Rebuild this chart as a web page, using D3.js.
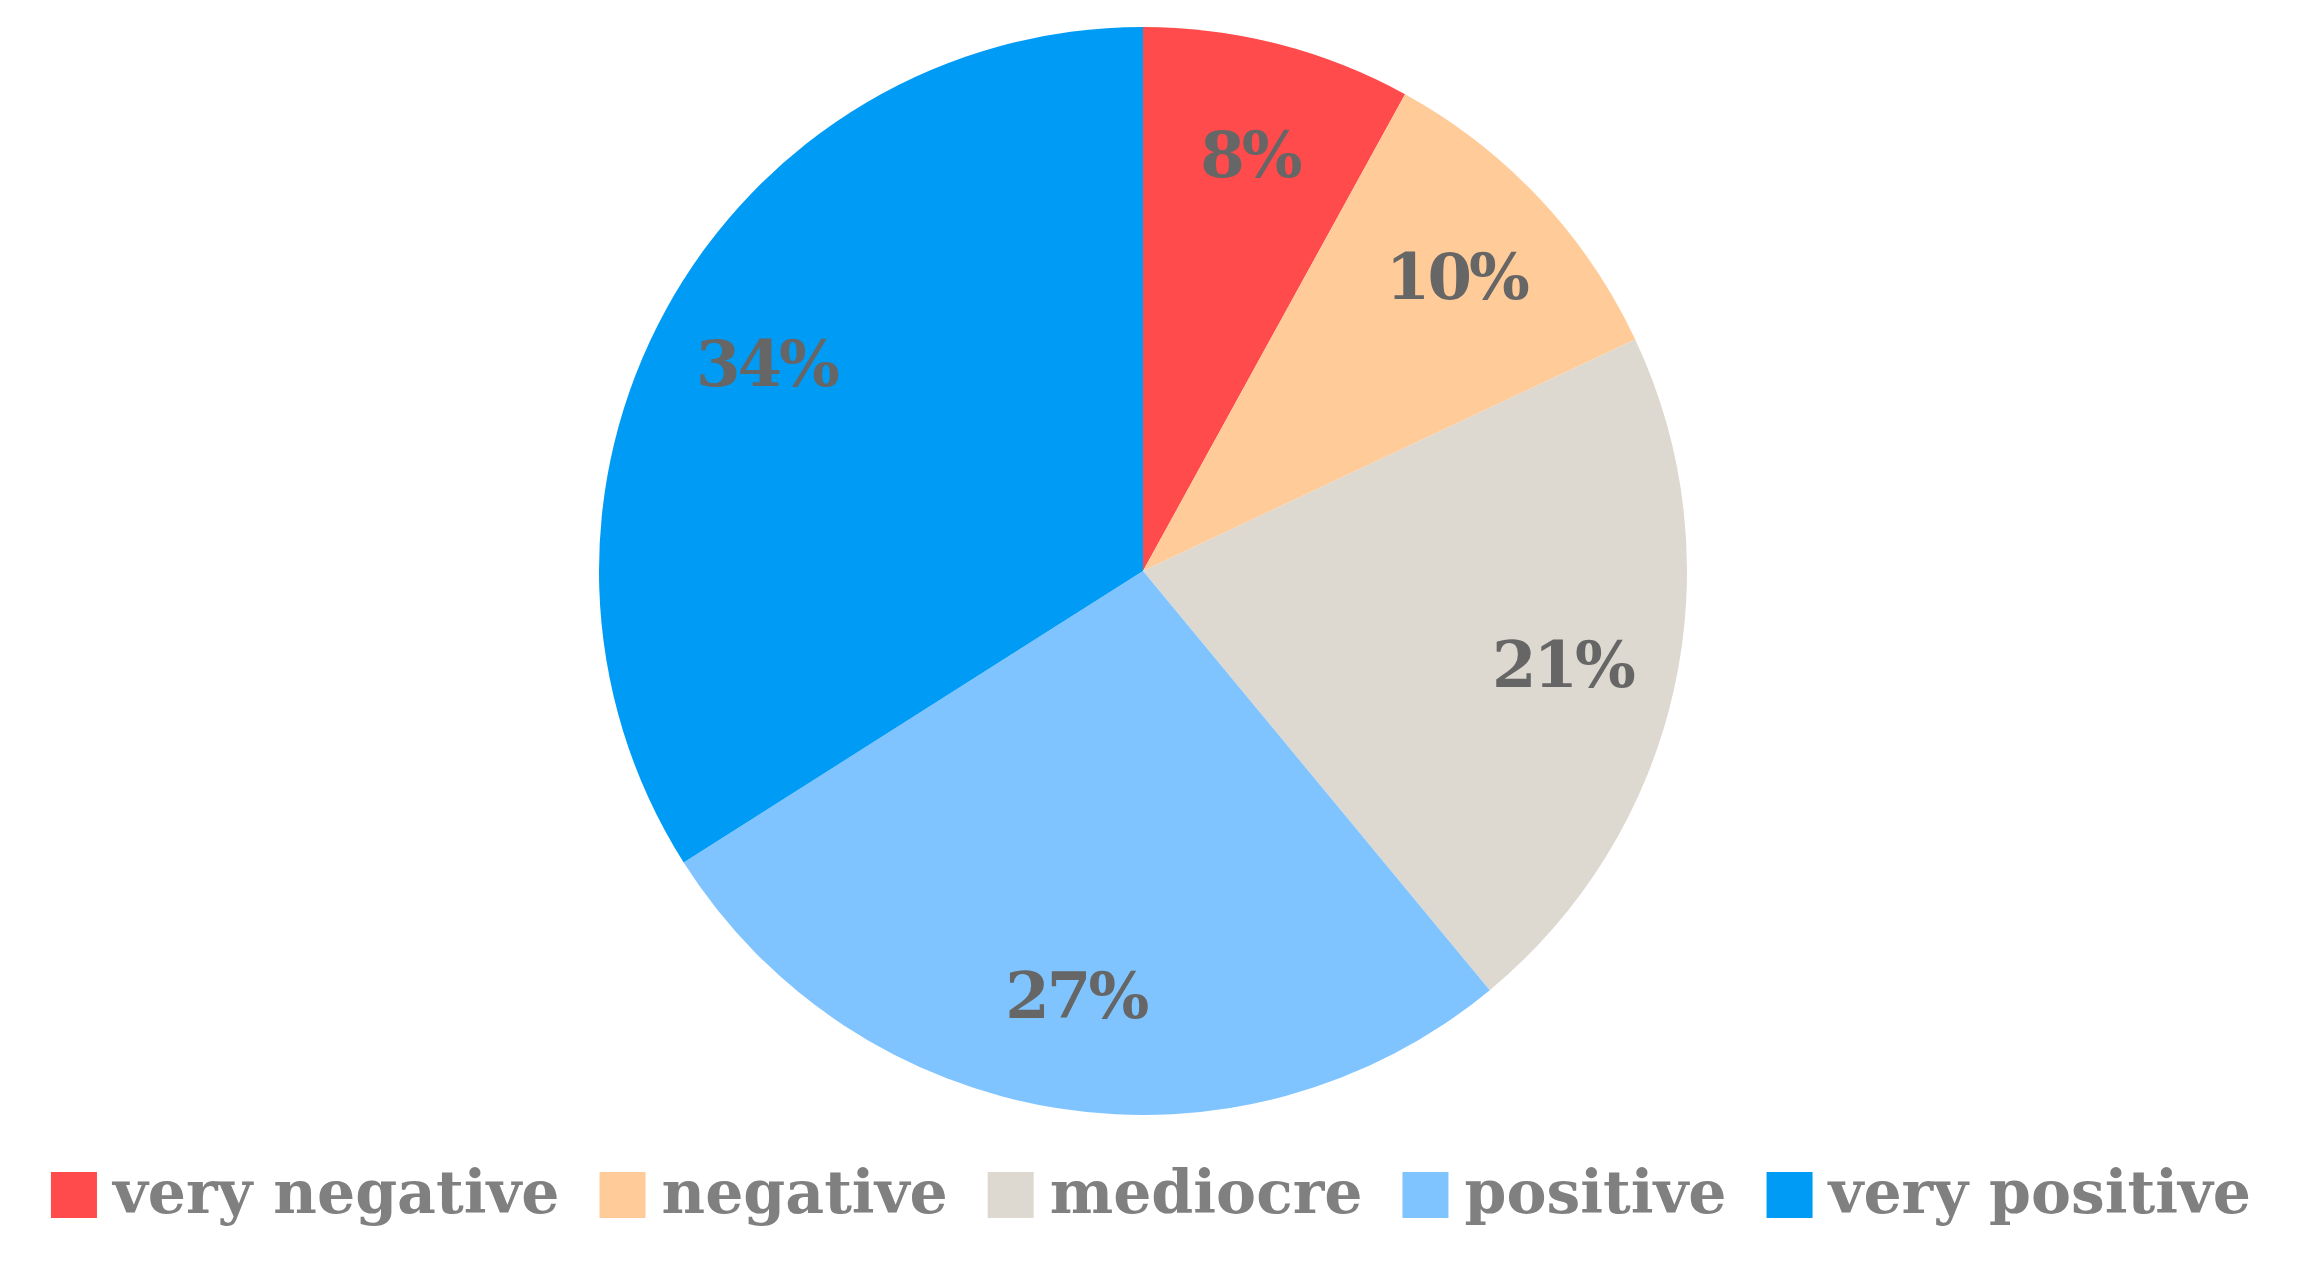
<!DOCTYPE html>
<html><head><meta charset="utf-8">
<script src="https://cdn.jsdelivr.net/npm/d3@7"></script>
<style>body{margin:0;background:#fff}</style>
</head><body>
<svg id="c" width="2302" height="1284"></svg>
<script>
const categories = ["very negative","negative","mediocre","positive","very positive"];
const values = [8,10,21,27,34];
const colors = ["#FF4B4B","#FFCC99","#DDD8D0","#80C4FF","#009BF5"];

const svg = d3.select("#c");
const cx = 1143, cy = 571, r = 544;
const pie = d3.pie().sort(null).value(d=>d)(values);
const arc = d3.arc().innerRadius(0).outerRadius(r);
const labelArc = d3.arc().innerRadius(r*0.79).outerRadius(r*0.79);
const g = svg.append("g").attr("transform",`translate(${cx},${cy})`);
g.selectAll("path").data(pie).join("path").attr("d",arc).attr("fill",(d,i)=>colors[i]);
g.selectAll("text").data(pie).join("text")
 .attr("transform",d=>`translate(${labelArc.centroid(d)})`)
 .attr("text-anchor","middle").attr("dy","0.35em")
 .attr("font-family","DejaVu Serif, serif").attr("font-weight","bold")
 .attr("font-size",64).attr("fill","#666").attr("letter-spacing",-3)
 .text(d=>d.data+"%");

const lg = svg.append("g");
const fs = 60, sq = 46, gap1 = 16, gap2 = 40;
let x = 0; const items=[];
categories.forEach((c,i)=>{
  const t = lg.append("text").attr("font-family","DejaVu Serif, serif").attr("font-weight","bold")
   .attr("font-size",fs).attr("fill","#808080").text(c);
  const w = t.node().getComputedTextLength();
  items.push({t,w,i});
});
const total = items.reduce((s,it)=>s+sq+gap1+it.w,0)+gap2*(items.length-1);
x = (2302-total)/2;
const ly = 1195;
items.forEach(it=>{
  lg.append("rect").attr("x",x).attr("y",ly-sq/2).attr("width",sq).attr("height",sq).attr("fill",colors[it.i]);
  it.t.attr("x",x+sq+gap1).attr("y",ly).attr("dy","0.3em");
  x += sq+gap1+it.w+gap2;
});
</script>
</body></html>
